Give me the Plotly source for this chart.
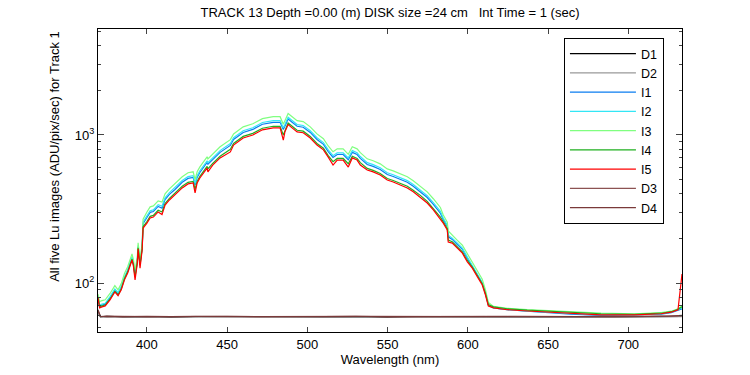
import plotly.graph_objects as go

# Wavelength grid (nm) for the Lu image spectra
wl = [369.5, 370.5, 372, 374, 377, 380, 382, 384, 386, 388, 390.7, 391.5, 392.6, 394, 394.5,
      395.7, 397, 397.6, 400, 402, 404, 407, 409.4, 411.3, 414, 417.5, 422, 425.6, 428.8, 430,
      431.3, 433, 437.5, 438, 441, 445.6, 452, 454, 460, 466, 472, 478.7, 483, 485, 486, 488,
      490.5, 493.6, 497.4, 501.8, 506, 510, 513, 516, 518.6, 522.3, 525.5, 528, 531, 533, 537.3,
      541, 545.4, 549.8, 553.5, 557.9, 562.3, 566, 570.4, 574.7, 578.5, 582.9, 584.7, 587.2,
      587.8, 590.3, 593.5, 596.6, 599.7, 602.8, 606, 609, 611, 612.8, 616, 624.6, 637, 651.5,
      664, 683, 703.7, 720.5, 726.8, 731, 733.5]

I1 = [80, 70, 71, 72, 79, 90, 84, 93, 108, 121, 147, 136, 113, 140, 175, 135, 172, 252, 277,
      300, 304, 329, 320, 366, 397, 428, 479, 509, 517, 460, 517, 558, 652, 635, 682, 763, 850,
      932, 1040, 1090, 1182, 1218, 1218, 1090, 1145, 1281, 1218, 1145, 1128, 1040, 932, 864,
      772, 705, 738, 738, 680, 763, 738, 695, 632, 614, 584, 541, 524, 500, 479, 450, 415, 378,
      340, 296, 269, 242, 205, 197, 182, 169, 147, 130, 113, 100, 85, 71, 68, 66, 64.5, 63,
      61.5, 60.5, 61, 61.5, 63, 65.5, 67]

I2 = [80, 71, 72, 73, 81, 91, 86, 95, 110, 123, 150, 139, 115, 143, 179, 138, 176, 258, 284,
      308, 312, 338, 330, 376, 408, 440, 492, 523, 531, 470, 531, 573, 670, 650, 701, 784, 875,
      958, 1068, 1120, 1214, 1251, 1251, 1120, 1176, 1316, 1251, 1176, 1159, 1068, 958, 888,
      793, 725, 758, 758, 700, 784, 758, 715, 650, 631, 600, 556, 539, 514, 492, 463, 427, 389,
      349, 305, 274, 246, 210, 201, 186, 172, 150, 131, 114, 101, 86, 71, 68, 66, 64.5, 63.5,
      62, 61, 61, 62, 63.5, 66, 68]

I3 = [84, 75, 76, 77, 85, 96, 90, 99, 116, 129, 157, 145, 122, 150, 187, 145, 184, 270, 302,
      327, 332, 359, 352, 400, 433, 468, 522, 556, 564, 500, 564, 609, 712, 690, 745, 833, 930,
      1017, 1135, 1190, 1290, 1329, 1329, 1180, 1250, 1398, 1329, 1250, 1232, 1135, 1017, 944,
      843, 770, 806, 806, 740, 833, 806, 760, 690, 670, 638, 590, 572, 546, 522, 491, 453, 413,
      371, 324, 288, 258, 225, 210, 194, 180, 157, 140, 121, 106, 90, 74, 69.5, 67.5, 66, 65,
      63.5, 62.5, 62, 63, 64.5, 67, 70]

I4 = [80, 69, 70, 71, 78, 88, 83, 91, 107, 119, 145, 134, 110, 138, 173, 132, 170, 240, 260,
      282, 286, 310, 302, 344, 373, 403, 450, 479, 486, 430, 486, 525, 613, 590, 642, 718, 800,
      876, 978, 1025, 1111, 1145, 1145, 1000, 1076, 1204, 1145, 1076, 1061, 978, 876, 813, 726,
      660, 694, 694, 640, 718, 694, 650, 595, 577, 549, 508, 493, 470, 450, 423, 391, 356, 320,
      279, 259, 233, 195, 190, 175, 162, 142, 128, 112, 99, 85, 71.5, 69, 67, 65.5, 64.5, 63,
      62, 61.5, 62.5, 64, 66.5, 69]

I5 = [79, 68, 69, 70, 77, 87, 82, 90, 105, 117, 143, 132, 105, 136, 170, 126, 167, 235, 254,
      275, 279, 302, 290, 336, 364, 393, 439, 467, 474, 406, 474, 512, 598, 563, 626, 700, 768,
      855, 954, 1000, 1084, 1117, 1117, 923, 1050, 1175, 1117, 1050, 1035, 954, 855, 793, 708,
      626, 677, 677, 607, 700, 677, 626, 580, 563, 536, 496, 481, 459, 439, 413, 381, 347, 312,
      272, 254, 228, 189, 186, 172, 159, 139, 126, 110, 97, 83, 70, 68, 66, 64.7, 63.5, 62, 61,
      61, 62, 63.5, 66, 115]

# Dark images
wl_dark = [369.5, 371, 375, 385, 400, 415, 430, 450, 470, 490, 510, 530, 550, 570, 590, 610,
           630, 650, 670, 690, 710, 725, 733.5]
D1 = [64, 59, 59.5, 59, 59.3, 58.8, 59.2, 59, 59.4, 58.9, 59.1, 59.3, 58.8, 59.2, 59, 59.3,
      58.9, 59.1, 58.7, 59, 59.2, 58.9, 59.5]
D2 = [63, 59.3, 58.9, 59.4, 59, 59.2, 58.8, 59.3, 59, 59.2, 58.9, 59.1, 59.3, 58.9, 59.2, 59,
      59.1, 58.8, 59.1, 58.9, 59, 59.2, 59.3]
D3 = [65, 59.6, 59.2, 59.5, 59.1, 59.4, 59.3, 59.6, 59.2, 59.5, 59.3, 59.6, 59.1, 59.4, 59.3,
      59.5, 59.2, 59.4, 59.3, 59.1, 59.4, 59.5, 60]
D4 = [66, 59.4, 59.7, 59.3, 59.6, 59.2, 59.5, 59.3, 59.6, 59.4, 59.2, 59.5, 59.4, 59.2, 59.5,
      59.3, 59.6, 59.2, 59.4, 59.5, 59.3, 59.6, 60.5]

x_ticks = [400, 450, 500, 550, 600, 650, 700]
y_ticks = [100, 1000]
y_ticktext = ["10<sup>2</sup>", "10<sup>3</sup>"]
y_minor = [50, 60, 70, 80, 90, 200, 300, 400, 500, 600, 700, 800, 900, 2000, 3000, 4000, 5000]

series = [
    ("D1", wl_dark, D1, "#000000"),
    ("D2", wl_dark, D2, "#999999"),
    ("I1", wl, I1, "#0a7cf0"),
    ("I2", wl, I2, "#33e6f5"),
    ("I3", wl, I3, "#80ff80"),
    ("I4", wl, I4, "#1faf1f"),
    ("I5", wl, I5, "#ff0000"),
    ("D3", wl_dark, D3, "#8c5252"),
    ("D4", wl_dark, D4, "#7a3a3a"),
]

FONT = "Liberation Sans, Arial, sans-serif"

fig = go.Figure()
for name, xs, ys, col in series:
    fig.add_trace(go.Scatter(x=xs, y=ys, name=name, mode="lines",
                             line=dict(color=col, width=1.2)))

fig.update_layout(
    width=750, height=375,
    margin=dict(l=98, r=68, t=29, b=43, autoexpand=False),
    paper_bgcolor="white", plot_bgcolor="white",
    font=dict(family=FONT, size=13, color="black"),
    title=dict(text="TRACK 13 Depth =0.00 (m) DISK size =24 cm\u00a0\u00a0\u00a0Int Time = 1 (sec)",
               x=0.5, xref="paper", xanchor="center",
               y=1 - 12 / 375, yref="container", yanchor="middle",
               font=dict(size=13)),
    showlegend=True,
    legend=dict(x=(662 - 98) / 582, xanchor="right", y=(332 - 38) / 303, yanchor="top",
                bordercolor="black", borderwidth=1, bgcolor="white",
                font=dict(size=12.5), tracegroupgap=0, itemwidth=66),
    xaxis=dict(range=[369.5, 733.5], tickvals=x_ticks, ticks="inside", ticklen=5,
               showline=True, linecolor="black", linewidth=1, mirror="ticks",
               showgrid=False, zeroline=False, tickfont=dict(size=13), automargin=False,
               title=dict(text="Wavelength (nm)", standoff=4, font=dict(size=13))),
    yaxis=dict(type="log", range=[1.669, 3.716], tickvals=y_ticks, ticktext=y_ticktext,
               ticks="inside", ticklen=6, showline=True, linecolor="black", linewidth=1,
               mirror="ticks", showgrid=False, zeroline=False, tickfont=dict(size=13),
               automargin=False,
               minor=dict(tickmode="array", tickvals=y_minor, ticks="inside", ticklen=3,
                          showgrid=False)),
    annotations=[dict(text="All five Lu images (ADU/pix/sec) for Track 1",
                      xref="paper", yref="paper", x=(54 - 98) / 582, y=(332 - 156) / 303,
                      xanchor="center", yanchor="middle", textangle=-90, showarrow=False,
                      font=dict(size=13))],
)

fig.write_html("out.html", config={"displayModeBar": False},
               post_script="document.body.style.margin='0';")
